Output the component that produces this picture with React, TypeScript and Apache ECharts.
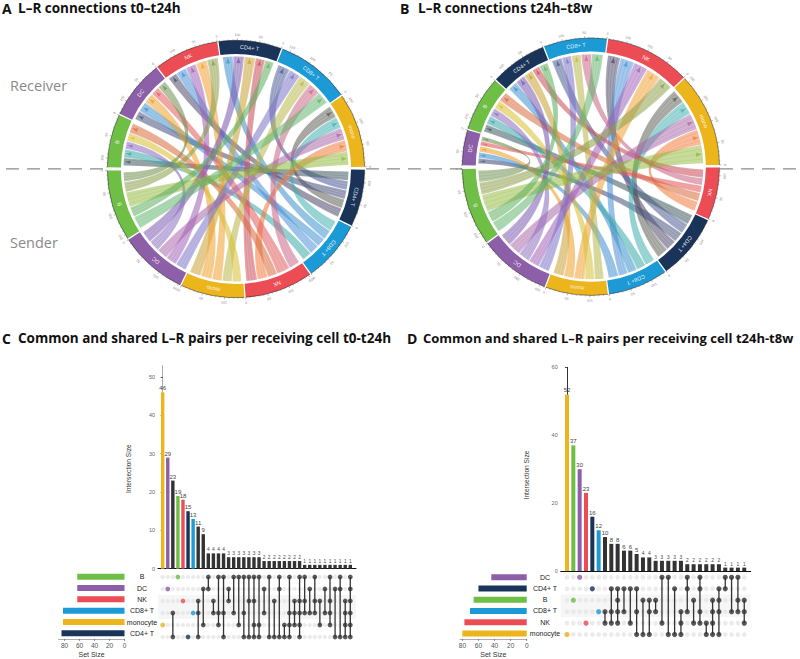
import React, { useEffect, useRef } from "react";
import * as echarts from "echarts";

// ---------- data: chord panels ----------
const chordNames: Record<string, string> = { B: "B", DC: "DC", NK: "NK", CD4: "CD4+ T", CD8: "CD8+ T", mono: "mono" };
const drawOrder = ["CD4", "CD8", "NK", "mono", "DC", "B"];

const aUpperOrder = ["mono", "CD8", "CD4", "NK", "DC", "B"];
const aUpperValues = [168, 168, 142, 146, 132, 120];
const aUpperPartners = [
  ["B", "NK", "DC", "CD8", "CD4"],
  ["B", "NK", "mono", "DC", "CD4"],
  ["B", "NK", "mono", "DC", "CD8"],
  ["B", "mono", "DC", "CD8", "CD4"],
  ["B", "NK", "mono", "CD8", "CD4"],
  ["NK", "mono", "DC", "CD8", "CD4"],
];
const aUpperWeights = [
  [36, 30, 32, 30, 32],
  [30, 30, 30, 28, 30],
  [24, 26, 30, 30, 28],
  [30, 30, 28, 28, 24],
  [24, 24, 28, 28, 24],
  [28, 24, 22, 24, 22],
];
const aLowerOrder = ["B", "DC", "mono", "NK", "CD8", "CD4"];
const aLowerValues = [160, 155, 144, 154, 138, 129];
const aLowerPartners = [
  ["DC", "NK", "mono", "CD4", "CD8"],
  ["CD4", "B", "mono", "NK", "CD8"],
  ["CD4", "DC", "NK", "CD8", "B"],
  ["CD4", "mono", "B", "DC", "CD8"],
  ["B", "NK", "DC", "CD4", "mono"],
  ["NK", "mono", "DC", "CD8", "B"],
];
const aLowerWeights = [
  [28, 30, 45, 30, 38],
  [32, 30, 30, 30, 30],
  [32, 32, 28, 28, 26],
  [30, 28, 26, 36, 30],
  [28, 28, 26, 28, 32],
  [26, 26, 26, 26, 26],
];

const bUpperOrder = ["mono", "NK", "CD8", "CD4", "B", "DC"];
const bUpperValues = [212, 192, 142, 128, 124, 80];
const bUpperPartners = [
  ["B", "NK", "DC", "CD8", "CD4"],
  ["B", "mono", "DC", "CD8", "CD4"],
  ["B", "NK", "mono", "DC", "CD4"],
  ["B", "NK", "mono", "DC", "CD8"],
  ["NK", "mono", "DC", "CD8", "CD4"],
  ["B", "NK", "mono", "CD8", "CD4"],
];
const bUpperWeights = [
  [50, 42, 44, 36, 38],
  [38, 40, 38, 38, 34],
  [32, 28, 26, 26, 28],
  [24, 22, 26, 28, 26],
  [28, 24, 24, 24, 22],
  [14, 14, 18, 18, 16],
];
const bLowerOrder = ["B", "DC", "mono", "CD8", "CD4", "NK"];
const bLowerValues = [175, 162, 140, 135, 148, 118];
const bLowerPartners = [
  ["DC", "NK", "mono", "CD4", "CD8"],
  ["CD4", "mono", "B", "NK", "CD8"],
  ["CD4", "DC", "NK", "B", "CD8"],
  ["DC", "NK", "CD4", "B", "mono"],
  ["mono", "NK", "DC", "CD8", "B"],
  ["mono", "B", "DC", "CD8", "CD4"],
];
const bLowerWeights = [
  [32, 34, 48, 30, 30],
  [34, 34, 32, 30, 30],
  [30, 28, 30, 26, 26],
  [28, 26, 26, 26, 28],
  [32, 30, 28, 28, 28],
  [28, 24, 20, 20, 24],
];

// ---------- data: UpSet panels ----------
const cSets = ["B", "DC", "NK", "CD8+ T", "monocyte", "CD4+ T"];
const cSetSizes = [63, 63, 63, 82, 82, 84];
const cBars = [46, 29, 23, 19, 18, 15, 13, 11, 9, 4, 4, 4, 4, 3, 3, 3, 3, 3, 3, 3, 2, 2, 2, 2, 2, 2, 2, 2, 1, 1, 1, 1, 1, 1, 1, 1, 1, 1];
const cMembers = [
  [4], [1], [3, 5], [0], [2], [5], [3], [2, 3, 5], [1, 4], [0, 1], [2, 3], [0, 3, 4], [0, 3, 5], [1, 2], [0, 3], [0, 4],
  [0, 3, 5], [0, 2, 5], [0, 2, 4, 5], [0, 4, 5], [1, 3], [0, 5], [2, 5], [0, 1, 5], [4, 5], [0, 3, 4, 5], [2, 3, 4],
  [0, 2, 3, 4, 5], [0, 2, 3], [1, 3], [0, 2, 3], [2, 4], [1, 3], [0, 2, 3, 4], [1, 5], [0, 1, 5], [2, 3, 4, 5], [0, 1, 2, 3, 4, 5],
];
const cYTicks = [0, 10, 20, 30, 40, 50];

const dSets = ["DC", "CD4+ T", "B", "CD8+ T", "NK", "monocyte"];
const dSetSizes = [44, 60, 66, 70.5, 77.5, 80];
const dBars = [52, 37, 30, 23, 16, 12, 10, 8, 8, 6, 6, 5, 4, 4, 3, 3, 3, 3, 3, 2, 2, 2, 2, 2, 2, 1, 1, 1, 1];
const dMembers = [
  [5], [2], [0], [4], [1], [3], [3, 4], [1, 3, 4], [1, 2, 3, 4], [1, 3], [1, 4], [1, 3, 5], [2, 5], [2, 3, 5], [2, 3],
  [0, 4], [0, 5], [1, 5], [3, 4, 5], [0, 1, 3], [2, 4], [0, 1, 3, 4], [4, 5], [2, 3, 4, 5], [1, 2, 3, 5], [0, 1], [0, 3], [0, 2, 3], [2, 3, 4],
];
const dYTicks = [0, 20, 40, 60];
const setSizeTicks = [0, 20, 40, 60, 80];

// ---------- palette ----------
const setColors: Record<string, string> = {
  B: "#6fbe45", DC: "#8c5fa8", NK: "#ec4d55", CD4: "#1a3358", CD8: "#1b9ad6", mono: "#ecb51c",
  "CD4+ T": "#1a3358", "CD8+ T": "#1b9ad6", monocyte: "#ecb51c",
};
const ribbonColors: Record<string, string> = {
  "B|mono": "#8fb83a", "B|CD8": "#5fb36b", "B|CD4": "#5cae5c", "B|NK": "#8a9e45", "B|DC": "#6f8f50",
  "DC|mono": "#a866a8", "DC|NK": "#a05fb8", "DC|CD4": "#7a55b0", "DC|CD8": "#7a72c8", "DC|B": "#8c6cc0",
  "mono|B": "#d8c030", "mono|DC": "#ef9f28", "mono|NK": "#f0a030", "mono|CD4": "#c8a030", "mono|CD8": "#b8b84a",
  "NK|mono": "#f27a3a", "NK|B": "#d96a3a", "NK|DC": "#e25a5a", "NK|CD4": "#c94a55", "NK|CD8": "#c96585",
  "CD8|mono": "#3fb0b0", "CD8|B": "#38a8a8", "CD8|DC": "#3f8fd0", "CD8|NK": "#4a90d5", "CD8|CD4": "#3a8fcc",
  "CD4|mono": "#5d5d56", "CD4|NK": "#4c4868", "CD4|CD8": "#4a5a96", "CD4|DC": "#47527c", "CD4|B": "#3f5a60",
};
const DARK = "#333333";
const SANS = '"Liberation Sans", Arial, sans-serif';
const HEAD = '"Open Sans", sans-serif';

// ---------- chord geometry ----------
const DEG_PER_UNIT = 0.2;
const SECTOR_GAP = 0.6;
const R_OUT = 0.99, R_IN = 0.885, R_LINK = 0.865, CTRL = 0.35;

type Half = { order: string[]; values: number[]; partners: string[][]; weights: number[][]; start: number };
type Sector = { name: string; value: number; a0: number; a1: number };
type Ribbon = { sender: string; color: string; a0: number; a1: number; b0: number; b1: number };

function layoutChord(up: Half, low: Half) {
  const sectors: Sector[] = [];
  const slots: Record<string, [number, number]> = {};
  const place = (h: Half, keyOf: (self: string, other: string) => string) => {
    let a = h.start;
    h.order.forEach((name, i) => {
      const span = h.values[i] * DEG_PER_UNIT;
      sectors.push({ name, value: h.values[i], a0: a, a1: a + span });
      const w = h.weights[i];
      const total = w.reduce((s, x) => s + x, 0);
      const pad = 1, inner = 0.35;
      const usable = span - 2 * pad - inner * (w.length - 1);
      let p = a + pad;
      w.forEach((x, j) => {
        const size = (x / total) * usable;
        slots[keyOf(name, h.partners[i][j])] = [p, p + size];
        p += size + inner;
      });
      a += span + SECTOR_GAP;
    });
  };
  place(up, (self, other) => `r|${other}|${self}`);
  place(low, (self, other) => `s|${self}|${other}`);
  const ribbons: Ribbon[] = [];
  up.order.forEach((name, i) => {
    up.partners[i].forEach((sender) => {
      const r = slots[`r|${sender}|${name}`];
      const s = slots[`s|${sender}|${name}`];
      if (r && s) ribbons.push({ sender, color: ribbonColors[`${sender}|${name}`], a0: r[0], a1: r[1], b0: s[0], b1: s[1] });
    });
  });
  ribbons.sort((x, y) => drawOrder.indexOf(x.sender) - drawOrder.indexOf(y.sender));
  return { sectors, ribbons };
}

const rad = (d: number) => (d * Math.PI) / 180;

function chordSeries(gridIndex: number, sectors: Sector[], ribbons: Ribbon[]) {
  const frame = (api: any) => {
    const c = api.coord([0, 0]);
    const size = api.size([1, 1]);
    const u = size[0];
    const pt = (deg: number, r: number): [number, number] => [c[0] + u * r * Math.cos(rad(deg)), c[1] - u * r * Math.sin(rad(deg))];
    return { u, pt };
  };
  const ribbonSeries = {
    type: "custom",
    coordinateSystem: "cartesian2d",
    xAxisIndex: gridIndex,
    yAxisIndex: gridIndex,
    silent: true,
    clip: false,
    z: 2,
    data: ribbons.map((r) => [r.a0, r.a1, r.b0, r.b1]),
    renderItem: (params: any, api: any) => {
      const { u, pt } = frame(api);
      const rb = ribbons[params.dataIndex];
      const f = (p: number[]) => `${p[0].toFixed(2)} ${p[1].toFixed(2)}`;
      const rr = (u * R_LINK).toFixed(2);
      const d =
        `M${f(pt(rb.a0, R_LINK))}A${rr} ${rr} 0 0 0 ${f(pt(rb.a1, R_LINK))}` +
        `C${f(pt(rb.a1, CTRL))} ${f(pt(rb.b0, CTRL))} ${f(pt(rb.b0, R_LINK))}` +
        `A${rr} ${rr} 0 0 0 ${f(pt(rb.b1, R_LINK))}` +
        `C${f(pt(rb.b1, CTRL))} ${f(pt(rb.a0, CTRL))} ${f(pt(rb.a0, R_LINK))}Z`;
      const children: any[] = [
        { type: "path", shape: { pathData: d }, style: { fill: rb.color, opacity: 0.5, stroke: "none" } },
      ];
      [0.22, 0.5, 0.78].forEach((t) => {
        const a = rb.a1 - (rb.a1 - rb.a0) * t;
        const b = rb.b0 + (rb.b1 - rb.b0) * t;
        const line = `M${f(pt(a, R_LINK))}C${f(pt(a, CTRL))} ${f(pt(b, CTRL))} ${f(pt(b, R_LINK))}`;
        children.push({ type: "path", shape: { pathData: line }, style: { fill: "none", stroke: rb.color, lineWidth: 0.45, opacity: 0.45 } });
      });
      const mid = (rb.a0 + rb.a1) / 2;
      const half = Math.min((rb.a1 - rb.a0) * 0.22, 1.2);
      children.push({
        type: "polygon",
        shape: { points: [pt(mid, R_LINK - 0.008), pt(mid - half, R_LINK - 0.05), pt(mid + half, R_LINK - 0.05)] },
        style: { fill: rb.color, opacity: 0.7 },
      });
      return { type: "group", children };
    },
  };
  const sectorSeries = {
    type: "custom",
    coordinateSystem: "cartesian2d",
    xAxisIndex: gridIndex,
    yAxisIndex: gridIndex,
    silent: true,
    clip: false,
    z: 3,
    data: sectors.map((s) => [s.a0, s.a1, s.value]),
    renderItem: (params: any, api: any) => {
      const { u, pt } = frame(api);
      const s = sectors[params.dataIndex];
      const f = (p: number[]) => `${p[0].toFixed(2)} ${p[1].toFixed(2)}`;
      const ro = (u * R_OUT).toFixed(2), ri = (u * R_IN).toFixed(2);
      const d =
        `M${f(pt(s.a0, R_OUT))}A${ro} ${ro} 0 0 0 ${f(pt(s.a1, R_OUT))}` +
        `L${f(pt(s.a1, R_IN))}A${ri} ${ri} 0 0 1 ${f(pt(s.a0, R_IN))}Z`;
      const children: any[] = [
        { type: "path", shape: { pathData: d }, style: { fill: setColors[s.name], stroke: "none" } },
        { type: "path", shape: { pathData: `M${f(pt(s.a0, R_OUT))}A${ro} ${ro} 0 0 0 ${f(pt(s.a1, R_OUT))}` }, style: { fill: "none", stroke: "#222", lineWidth: 0.5 } },
      ];
      for (let v = 0; v <= s.value; v += 10) {
        const a = s.a0 + v * DEG_PER_UNIT;
        const major = v % 50 === 0;
        const p0 = pt(a, R_OUT), p1 = pt(a, R_OUT + (major ? 0.016 : 0.008));
        children.push({ type: "line", shape: { x1: p0[0], y1: p0[1], x2: p1[0], y2: p1[1] }, style: { stroke: "#444", lineWidth: 0.35 } });
        if (major) {
          const p = pt(a, R_OUT + 0.04);
          children.push({
            type: "text", x: p[0], y: p[1], rotation: rad(a - 90),
            style: { text: String(v), fontSize: 3.5, fontFamily: SANS, fill: "#888", align: "center", verticalAlign: "middle" },
          });
        }
      }
      const mid = (s.a0 + s.a1) / 2;
      const lp = pt(mid, (R_OUT + R_IN) / 2);
      children.push({
        type: "text", x: lp[0], y: lp[1], rotation: rad(mid - 90),
        style: { text: chordNames[s.name], fontSize: 5.6, fontFamily: SANS, fill: "#ffffff", opacity: 0.9, align: "center", verticalAlign: "middle" },
      });
      return { type: "group", children };
    },
  };
  return [ribbonSeries, sectorSeries];
}

// ---------- UpSet builder ----------
type Upset = {
  sets: string[]; sizes: number[]; bars: number[]; members: number[][]; yTicks: number[];
  axisLeft: number; axisRight: number; firstX: number; step: number; y0: number; yTop: number; yMax: number;
  barW: number; dot: number; rowTop: number; rowH: number; sizeZero: number; sizePx: number; sizeMax: number; labelGap: number; axisColor: string;
};

function upset(u: Upset, base: number) {
  const xMin = -(u.firstX - u.axisLeft) / u.step;
  const xMax = (u.axisRight - u.firstX) / u.step;
  const gridW = u.axisRight - u.axisLeft;
  const grid = [
    { left: u.axisLeft, top: u.yTop, width: gridW, height: u.y0 - u.yTop },
    { left: u.axisLeft, top: u.rowTop, width: gridW, height: u.rowH * 6 },
    { left: u.sizeZero - u.sizeMax * u.sizePx, top: u.rowTop, width: u.sizeMax * u.sizePx, height: u.rowH * 6 },
  ];
  const xAxis: any[] = [
    {
      gridIndex: base, type: "value", min: xMin, max: xMax, position: "bottom", splitLine: { show: false },
      axisLine: { show: true, onZero: false, lineStyle: { color: "#111", width: 1 } }, axisTick: { show: false }, axisLabel: { show: false },
    },
    { gridIndex: base + 1, type: "value", min: xMin, max: xMax, show: false },
    {
      gridIndex: base + 2, type: "value", inverse: true, min: 0, max: u.sizeMax, splitLine: { show: false },
      axisLine: { show: true, lineStyle: { color: "#999", width: 0.8 } },
      axisTick: { show: true, length: 2, lineStyle: { color: "#555", width: 0.6 }, customValues: setSizeTicks },
      axisLabel: { show: true, fontSize: 6.5, fontFamily: SANS, color: "#555", margin: 3, customValues: setSizeTicks },
      name: "Set Size", nameLocation: "middle", nameGap: 12, nameTextStyle: { fontSize: 7, fontFamily: SANS, color: "#333" },
    },
  ];
  const yAxis: any[] = [
    {
      gridIndex: base, type: "value", min: 0, max: u.yMax, splitLine: { show: false },
      axisLine: { show: true, lineStyle: { color: u.axisColor, width: 1 } },
      axisTick: { show: true, length: 2, lineStyle: { color: "#222", width: 0.8 }, customValues: u.yTicks },
      axisLabel: { show: true, fontSize: 5.5, fontFamily: SANS, color: "#666", margin: 3, customValues: u.yTicks },
    },
    {
      gridIndex: base + 1, type: "category", inverse: true, data: u.sets,
      axisLine: { show: false }, axisTick: { show: false }, axisLabel: { show: false }, splitLine: { show: false },
      splitArea: { show: true, areaStyle: { color: ["#ffffff", "#f6f6f6"] } },
    },
    {
      gridIndex: base + 2, type: "category", inverse: true, position: "right", data: u.sets,
      axisLine: { show: false }, axisTick: { show: false }, splitLine: { show: false },
      axisLabel: { show: true, fontSize: 7, fontFamily: SANS, color: "#222", align: "center", margin: u.labelGap },
    },
  ];
  const colorOf = (i: number) => (u.members[i].length === 1 ? setColors[u.sets[u.members[i][0]]] : DARK);
  const background: number[][] = [];
  u.bars.forEach((_, c) => u.sets.forEach((__, r) => background.push([c, r])));
  const filled: any[] = [];
  u.members.forEach((m, c) => m.forEach((r) => filled.push({ value: [c, r], itemStyle: { color: colorOf(c) } })));
  const series: any[] = [
    {
      type: "bar", xAxisIndex: base, yAxisIndex: base, barWidth: u.barW, silent: true,
      data: u.bars.map((v, i) => ({
        value: [i, v], itemStyle: { color: colorOf(i) },
        label: { show: true, position: "top", distance: 1, formatter: String(v), fontSize: v > 4 ? 6 : 4.8, fontFamily: SANS, color: "#444" },
      })),
    },
    {
      type: "scatter", xAxisIndex: base + 1, yAxisIndex: base + 1, silent: true, symbolSize: u.dot - 0.5, z: 2,
      itemStyle: { color: "#e6e6e6" }, data: background,
    },
    {
      type: "custom", coordinateSystem: "cartesian2d", xAxisIndex: base + 1, yAxisIndex: base + 1, silent: true, z: 3,
      data: u.members.map((m, c) => [c, Math.min(...m), Math.max(...m)]),
      renderItem: (_: any, api: any) => {
        const a = api.coord([api.value(0), api.value(1)]);
        const b = api.coord([api.value(0), api.value(2)]);
        return { type: "line", shape: { x1: a[0], y1: a[1], x2: b[0], y2: b[1] }, style: { stroke: DARK, lineWidth: 1.3 } };
      },
    },
    {
      type: "scatter", xAxisIndex: base + 1, yAxisIndex: base + 1, silent: true, symbolSize: u.dot, z: 4, data: filled,
    },
    {
      type: "bar", xAxisIndex: base + 2, yAxisIndex: base + 2, barWidth: 6, silent: true,
      data: u.sizes.map((v, i) => ({ value: [v, i], itemStyle: { color: setColors[u.sets[i]] } })),
    },
  ];
  return { grid, xAxis, yAxis, series };
}

const hiddenAxis = (gridIndex: number) => ({ gridIndex, type: "value", min: -1, max: 1, show: false });

export default function App() {
  const ref = useRef<HTMLDivElement>(null);
  useEffect(() => {
    if (!ref.current) return;
    const chart = echarts.init(ref.current, undefined, { renderer: "svg" });
    const A = layoutChord(
      { order: aUpperOrder, values: aUpperValues, partners: aUpperPartners, weights: aUpperWeights, start: 1 },
      { order: aLowerOrder, values: aLowerValues, partners: aLowerPartners, weights: aLowerWeights, start: 180.7 }
    );
    const B = layoutChord(
      { order: bUpperOrder, values: bUpperValues, partners: bUpperPartners, weights: bUpperWeights, start: 0.8 },
      { order: bLowerOrder, values: bLowerValues, partners: bLowerPartners, weights: bLowerWeights, start: 181 }
    );
    const C = upset(
      {
        sets: cSets, sizes: cSetSizes, bars: cBars, members: cMembers, yTicks: cYTicks,
        axisLeft: 158, axisRight: 356, firstX: 162.7, step: 5.07, y0: 568.7, yTop: 365.6, yMax: 53,
        barW: 3.4, dot: 4.8, rowTop: 571, rowH: 12, sizeZero: 124.5, sizePx: 0.75, sizeMax: 88, labelGap: 17.5, axisColor: "#aaaaaa",
      },
      2
    );
    const D = upset(
      {
        sets: dSets, sizes: dSetSizes, bars: dBars, members: dMembers, yTicks: dYTicks,
        axisLeft: 560.7, axisRight: 750.7, firstX: 567, step: 6.33, y0: 571, yTop: 367.3, yMax: 60,
        barW: 4, dot: 5.2, rowTop: 571.6, rowH: 11.45, sizeZero: 526.7, sizePx: 0.804, sizeMax: 83, labelGap: 18.3, axisColor: "#333333",
      },
      5
    );
    const heading = (text: string, x: number, y: number, size: number) => ({
      type: "text", x, y, style: { text, fontFamily: HEAD, fontWeight: "bold", fontSize: size, fill: "#111", verticalAlign: "middle" },
    });
    const side = (text: string, x: number, y: number) => ({
      type: "text", x, y, style: { text, fontFamily: HEAD, fontSize: 14.5, fill: "#8a8a8a", verticalAlign: "middle" },
    });
    const dash = (x1: number, x2: number) => ({
      type: "line", shape: { x1, y1: 168.8, x2, y2: 168.8 }, style: { stroke: "#8c8c8c", lineWidth: 1.3, lineDash: [13, 8] },
    });
    const vertical = (text: string, x: number, y: number) => ({
      type: "text", x, y, rotation: Math.PI / 2,
      style: { text, fontFamily: SANS, fontSize: 6.6, fill: "#333", align: "center", verticalAlign: "middle" },
    });
    chart.setOption({
      animation: false,
      backgroundColor: "#ffffff",
      grid: [
        { left: 236 - 130, top: 169 - 130, width: 260, height: 260 },
        { left: 590.8 - 130, top: 166.7 - 130, width: 260, height: 260 },
        ...C.grid,
        ...D.grid,
      ],
      xAxis: [hiddenAxis(0), hiddenAxis(1), ...C.xAxis, ...D.xAxis],
      yAxis: [hiddenAxis(0), hiddenAxis(1), ...C.yAxis, ...D.yAxis],
      series: [
        ...chordSeries(0, A.sectors, A.ribbons),
        ...chordSeries(1, B.sectors, B.ribbons),
        ...C.series,
        ...D.series,
      ],
      graphic: [
        dash(6, 106), dash(366, 462), dash(720, 800),
        heading("A", 2, 8, 14), heading("L–R connections t0–t24h", 18, 8, 13.5),
        heading("B", 400, 8, 14), heading("L–R connections t24h–t8w", 418, 8, 13.5),
        heading("C", 2, 338, 14), heading("Common and shared L–R pairs per receiving cell t0-t24h", 18, 338, 13.5),
        heading("D", 407, 338, 14), heading("Common and shared L–R pairs per receiving cell t24h-t8w", 423, 338, 13),
        side("Receiver", 10, 85), side("Sender", 10, 242),
        vertical("Intersection Size", 128.7, 468.7),
        vertical("Intersection Size", 526, 475),
      ],
    });
    return () => chart.dispose();
  }, []);
  return <div ref={ref} style={{ position: "absolute", left: 0, top: 0, width: 800, height: 659 }} />;
}
